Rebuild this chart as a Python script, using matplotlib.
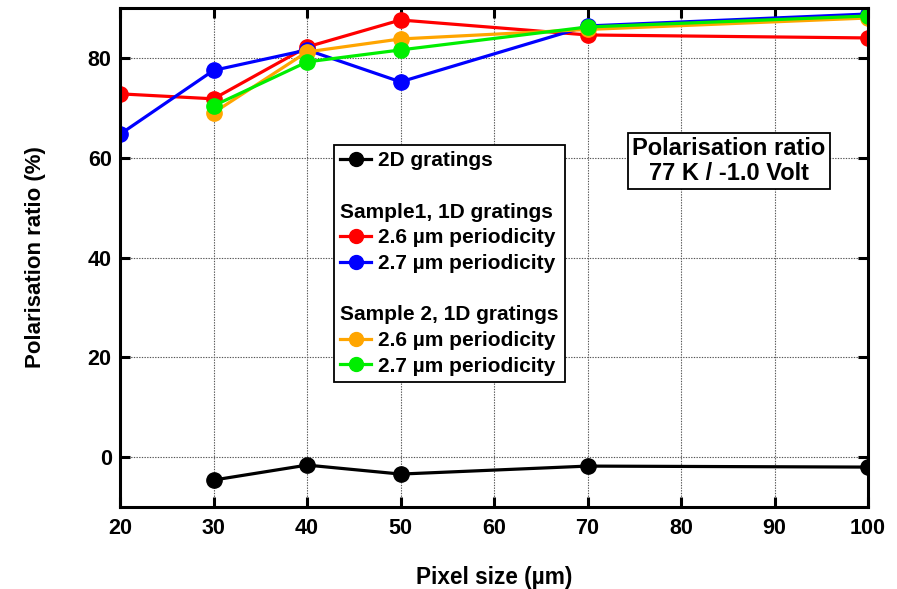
import matplotlib
matplotlib.use('Agg')
import matplotlib.pyplot as plt
from matplotlib.lines import Line2D

plt.rcParams['font.family'] = ['Liberation Sans', 'DejaVu Sans']
plt.rcParams['font.weight'] = 'bold'

# pixel sizes (um)
px_all = [20, 30, 40, 50, 70, 100]
px_s2 = [30, 40, 50, 70, 100]

s1_26 = [72.8, 71.8, 82.2, 87.6, 84.6, 84.0]
s1_27 = [64.7, 77.5, 81.6, 75.2, 86.4, 88.8]
s2_26 = [69.0, 81.2, 83.8, 85.7, 88.0]
s2_27 = [70.4, 79.2, 81.6, 86.2, 88.4]
grat_2d = [-4.6, -1.6, -3.4, -1.8, -2.0]

xticks = [20, 30, 40, 50, 60, 70, 80, 90, 100]
yticks = [0, 20, 40, 60, 80]

fig = plt.figure(figsize=(8.97, 5.89), dpi=100)
ax = fig.add_axes([0.1338, 0.1392, 0.8339, 0.8472])

lw = 2.3
ms = 11
ax.plot(px_s2, grat_2d, '-o', color='black', lw=lw, ms=ms)
ax.plot(px_all, s1_26, '-o', color='#ff0000', lw=lw, ms=ms)
ax.plot(px_all, s1_27, '-o', color='#0000ff', lw=lw, ms=ms)
ax.plot(px_s2, s2_26, '-o', color='#ffa500', lw=lw, ms=ms)
ax.plot(px_s2, s2_27, '-o', color='#00ee00', lw=lw, ms=ms)

ax.set_xlim(20, 100)
ax.set_ylim(-10, 90)
ax.set_xticks(xticks)
ax.set_yticks(yticks)
ax.grid(True, color='#555555', ls=(0, (1.2, 1.2)), lw=0.8)
ax.set_axisbelow(True)

for sp in ax.spines.values():
    sp.set_linewidth(2.2)
ax.tick_params(direction='in', length=7, width=2.2, top=True, right=True,
               labelsize=15.5)
ax.tick_params(axis='x', pad=8)
ax.tick_params(axis='y', pad=6)
for lab in ax.get_xticklabels() + ax.get_yticklabels():
    lab.set_fontweight('bold')

ax.set_xlabel('Pixel size (µm)', fontsize=16.3, fontweight='bold', labelpad=19)
ax.set_ylabel('Polarisation ratio (%)', fontsize=16, fontweight='bold', labelpad=30)

# legend with section headers
def mk(c):
    return Line2D([], [], color=c, marker='o', lw=lw, ms=10)

blank = Line2D([], [], color='none')
handles = [mk('black'), blank, blank, mk('#ff0000'), mk('#0000ff'),
           blank, blank, mk('#ffa500'), mk('#00ee00')]
labels = ['2D gratings', ' ', 'Sample1, 1D gratings', '2.6 µm periodicity',
          '2.7 µm periodicity', ' ', 'Sample 2, 1D gratings',
          '2.6 µm periodicity', '2.7 µm periodicity']
leg = ax.legend(handles, labels, loc='upper left', bbox_to_anchor=(0.286, 0.7255),
                borderaxespad=0, fancybox=False, framealpha=1, edgecolor='black',
                prop={'size': 15, 'weight': 'bold'}, handlelength=1.5,
                handletextpad=0.3, labelspacing=0.32, borderpad=0.3)
leg.get_frame().set_linewidth(1.3)
rows = leg._legend_handle_box.get_children()[0].get_children()
for i in (2, 6):
    rows[i]._children = [rows[i].get_children()[1]]

ax.text(0.814, 0.694, 'Polarisation ratio\n77 K / -1.0 Volt', transform=ax.transAxes,
        ha='center', va='center', fontsize=17, fontweight='bold', linespacing=1.1,
        bbox=dict(boxstyle='square,pad=0.18', fc='white', ec='black', lw=1.3))

fig.savefig('out.png', dpi=100)
